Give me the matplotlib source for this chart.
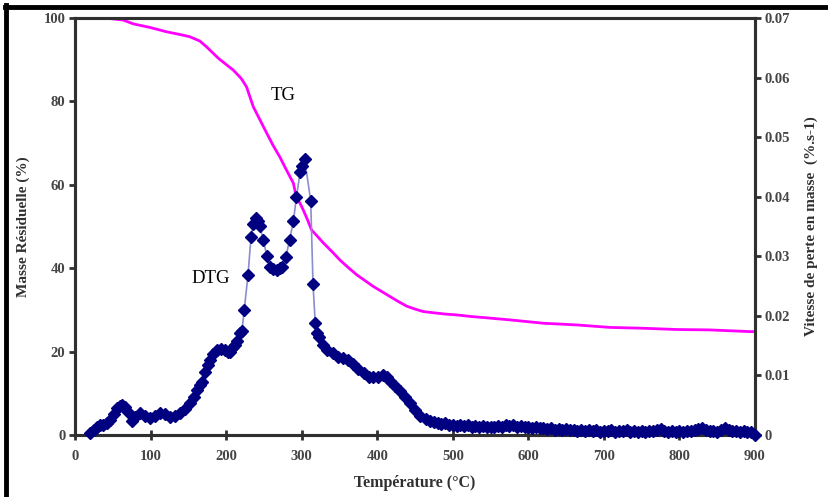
import matplotlib
matplotlib.use("Agg")
import matplotlib.pyplot as plt
from matplotlib.lines import Line2D
from matplotlib.ticker import FixedLocator

# ---- data ----
tg_temp = [20, 40, 64, 77, 100, 121, 140, 152, 165, 174, 190, 209.5, 220, 227, 236, 245,
           254, 262, 271, 280, 289, 293, 298, 302, 308, 313, 320, 329, 340, 351, 362, 373,
           384, 395, 406, 417, 428, 439, 450, 461, 475, 490, 505, 525, 545, 576, 620, 664,
           708, 752, 796, 840, 893, 900]
tg_mass = [100, 100, 99.5, 98.6, 97.7, 96.7, 96.0, 95.5, 94.5, 93.1, 90.3, 87.5, 85.5, 83.5,
           78.7, 75.5, 72.3, 69.5, 66.7, 63.5, 60.4, 57.0, 55.5, 54.0, 51.5, 49.2, 47.8, 46.0,
           44.0, 41.9, 40.1, 38.4, 37.0, 35.6, 34.4, 33.2, 32.0, 30.9, 30.2, 29.6, 29.3, 29.0,
           28.8, 28.4, 28.1, 27.6, 26.8, 26.4, 25.8, 25.6, 25.3, 25.2, 24.8, 24.8]

dtg_temp = [20, 25, 29, 33, 37, 42, 46, 51, 55, 59, 62, 66, 70, 75, 80, 86, 92, 99, 106, 112,
            119, 126, 132, 139, 145, 152, 157, 161, 165, 168, 172, 176, 179, 183, 188, 193,
            198, 202, 205, 209, 212, 215, 218, 221, 224, 229, 233, 236, 239, 242, 245, 249,
            254, 258, 262, 267, 271, 274, 279, 284, 289, 293, 298, 301, 304, 312, 315, 318,
            320, 323, 328, 334, 342, 348, 355, 361, 368, 375, 382, 389, 395, 401, 408, 413,
            417, 424, 430, 437, 443, 450, 457, 464, 470, 475,
            480, 485, 490, 495, 500, 505, 510, 515, 520, 525, 530, 535, 540, 545, 550, 555,
            560, 565, 570, 575, 580, 585, 590, 595, 600, 605, 610, 615, 620, 625, 630, 635,
            640, 645, 650, 655, 660, 665, 670, 675, 680, 685, 690, 695, 700, 705, 710, 715,
            720, 725, 730, 735, 740, 745, 750, 755, 760, 765, 770, 775, 780, 785, 790, 795,
            800, 805, 810, 815, 820, 825, 830, 835, 840, 845, 850, 855, 860, 865, 870, 875,
            880, 885, 890, 895, 900]
dtg_rate = [0.00028, 0.00084, 0.0014, 0.00168, 0.00168, 0.00196, 0.00252, 0.0035, 0.00448,
            0.0049, 0.00504, 0.00462, 0.00392, 0.00238, 0.00294, 0.00364, 0.00322, 0.0028,
            0.00322, 0.00364, 0.0035, 0.00308, 0.00322, 0.00364, 0.00434, 0.00532, 0.00644,
            0.00756, 0.0084, 0.00896, 0.01064, 0.01176, 0.0126, 0.01358, 0.01428, 0.01442,
            0.01428, 0.01386, 0.014, 0.0147, 0.01512, 0.01582, 0.01708, 0.0175, 0.021,
            0.02688, 0.03332, 0.03542, 0.0364, 0.03584, 0.035, 0.03276, 0.0301, 0.02828,
            0.02786, 0.02772, 0.028, 0.02828, 0.02982, 0.03276, 0.03584, 0.0399, 0.04417,
            0.04515, 0.04627, 0.03927, 0.02534, 0.01876, 0.01715, 0.01638, 0.01512, 0.01428,
            0.01372, 0.01316, 0.01288, 0.0126, 0.0119, 0.01106, 0.01036, 0.0098, 0.00966,
            0.0098, 0.01008, 0.00966, 0.0091, 0.00826, 0.00742, 0.0063, 0.00532, 0.0042,
            0.00322, 0.00266, 0.00238, 0.00224,
            0.00203, 0.00182, 0.00196, 0.00168, 0.00175, 0.00154, 0.00168, 0.00147, 0.00161,
            0.0014, 0.00154, 0.00133, 0.00147, 0.00133, 0.0014, 0.00126, 0.00147, 0.0014,
            0.00161, 0.00147, 0.00168, 0.0014, 0.00154, 0.00133, 0.0014, 0.00119, 0.00133,
            0.00112, 0.00119, 0.00098, 0.00112, 0.00091, 0.00105, 0.00084, 0.00098, 0.00077,
            0.00091, 0.0007, 0.00084, 0.0007, 0.00077, 0.00063, 0.00077, 0.00056, 0.0007,
            0.00063, 0.00077, 0.00056, 0.0007, 0.00063, 0.00077, 0.00056, 0.0007, 0.00049,
            0.00063, 0.00056, 0.0007, 0.00063, 0.00084, 0.00098, 0.0007, 0.00056, 0.0007,
            0.00049, 0.00063, 0.00056, 0.0007, 0.00063, 0.00077, 0.00105, 0.00119, 0.00084,
            0.00063, 0.0007, 0.00056, 0.00091, 0.00112, 0.00077, 0.00063, 0.0007, 0.00056,
            0.00063, 0.00049, 0.00042, 0.00007]

x_ticks = [0, 100, 200, 300, 400, 500, 600, 700, 800, 900]
left_ticks = [0, 20, 40, 60, 80, 100]
right_ticks = [0, 0.01, 0.02, 0.03, 0.04, 0.05, 0.06, 0.07]
right_labels = ["0", "0.01", "0.02", "0.03", "0.04", "0.05", "0.06", "0.07"]

# ---- figure ----
serif = ["Liberation Serif", "DejaVu Serif"]
plt.rcParams["font.family"] = serif

fig = plt.figure(figsize=(8.29, 4.97), dpi=100)
ax = fig.add_axes([75 / 829, 1 - 435 / 497, 680 / 829, 417 / 497])
ax2 = ax.twinx()

ax.plot(tg_temp, tg_mass, color="#ff00ff", lw=2.0, zorder=3)
ax2.plot(dtg_temp, dtg_rate, color="#8c8cd0", lw=1.2, marker="D", ms=6,
         mfc="#000080", mec="#000080", clip_on=False, zorder=4)

ax.set_xlim(0, 900)
ax.set_ylim(0, 100)
ax2.set_ylim(0, 0.07)

tick_color = "#454545"
ax.xaxis.set_major_locator(FixedLocator(x_ticks))
ax.yaxis.set_major_locator(FixedLocator(left_ticks))
ax2.yaxis.set_major_locator(FixedLocator(right_ticks))
ax2.set_yticklabels(right_labels)

for a in (ax, ax2):
    for s in a.spines.values():
        s.set_color("#303030")
        s.set_linewidth(2.2)
ax.tick_params(axis="x", direction="inout", length=7, width=2, color="#303030",
               labelsize=10.5, labelcolor=tick_color, pad=7)
ax.tick_params(axis="y", direction="out", length=4, width=2, color="#303030",
               labelsize=10.5, labelcolor=tick_color, pad=3)
ax2.tick_params(axis="y", direction="out", length=4, width=2, color="#303030",
                labelsize=10.5, labelcolor=tick_color, pad=3)
for lab in ax.get_xticklabels() + ax.get_yticklabels() + ax2.get_yticklabels():
    lab.set_fontweight("bold")

ax.set_xlabel("Température (°C)", fontsize=11.5, fontweight="bold", color="#303030", labelpad=9)
ax.set_ylabel("Masse Résiduelle (%)", fontsize=11, fontweight="bold", color="#303030", labelpad=10)
ax2.set_ylabel("Vitesse de perte en masse  (%.s-1)", fontsize=11, fontweight="bold",
               color="#303030", labelpad=10, rotation=90)

ax.text(275, 81.5, "TG", fontsize=13.5, color="black", ha="center", va="center")
ax.text(180, 37.6, "DTG", fontsize=13.5, color="black", ha="center", va="center")

# black frame lines (top and left) of the original picture
fig.add_artist(Line2D([6.5 / 829, 6.5 / 829], [0, 1 - 5 / 497], transform=fig.transFigure,
                      color="black", lw=3.5))
fig.add_artist(Line2D([5 / 829, 1], [1 - 6.5 / 497, 1 - 6.5 / 497], transform=fig.transFigure,
                      color="black", lw=3.5))

fig.savefig("out.png", dpi=100)
